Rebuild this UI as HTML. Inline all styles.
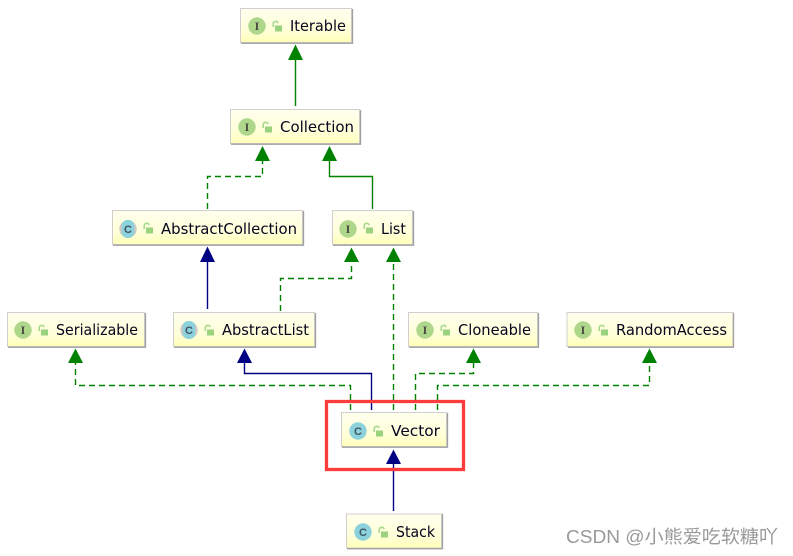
<!DOCTYPE html>
<html><head><meta charset="utf-8"><style>html,body{margin:0;padding:0;background:#fff}svg{display:block}
.t{font-family:"DejaVu Sans","Liberation Sans",sans-serif;font-size:15px;fill:#05051e}
.l{font-family:"Liberation Serif",serif;font-size:12px;font-weight:bold;fill:#4a4a40;text-anchor:middle}
.c{font-family:"Liberation Sans",sans-serif;font-size:11px;font-weight:bold;fill:#3f5560;text-anchor:middle}
.d{fill:none;stroke:#008200;stroke-width:1.4;stroke-dasharray:6 4}
.s{fill:none;stroke:#008200;stroke-width:1.4}
.b{fill:none;stroke:#000082;stroke-width:1.4}
</style></head><body>
<svg width="793" height="556" viewBox="0 0 793 556" xmlns="http://www.w3.org/2000/svg">
<defs>
<linearGradient id="g" x1="0" y1="0" x2="0" y2="1"><stop offset="0" stop-color="#ffffee"/><stop offset=".65" stop-color="#ffffd8"/><stop offset="1" stop-color="#ffffb8"/></linearGradient>
<g id="lock"><path d="M1.200 5V1.800a2.600 2.600 0 0 1 5-.8" fill="none" stroke="#a3d98a" stroke-width="1.500"/><rect x="3" y="3.500" width="7" height="6" fill="#9ad27e"/></g>
</defs>
<!-- connectors -->
<path class="s" d="M295.500 50V106"/>
<path class="d" d="M207.500 209V176.500H262.500V158"/>
<path class="s" d="M372.500 209V176.500H329.500V158"/>
<path class="b" d="M207.500 309V258"/>
<path class="d" d="M280.500 311V278.500H351.500V260"/>
<path class="d" d="M393.500 410V260"/>
<path class="d" d="M350.500 410V385.500H75.500V360"/>
<path class="b" d="M371.500 410V373.500H244.500V360"/>
<path class="d" d="M415.500 410V373.500H473.500V360"/>
<path class="d" d="M437.500 410V385.500H649.500V360"/>
<path class="b" d="M393.500 511V462"/>
<!-- arrowheads -->
<g fill="#008200">
<polygon points="295.500,44.500 288,60 303,60"/>
<polygon points="262.500,146 255,161 270,161"/>
<polygon points="329.500,146 322,161 337,161"/>
<polygon points="351.500,247.500 344,262 359,262"/>
<polygon points="393.500,247.500 386,262 401,262"/>
<polygon points="75.500,348.500 68,363 83,363"/>
<polygon points="473.500,348.500 466,363 481,363"/>
<polygon points="649.500,348.500 642,363 657,363"/>
</g>
<g fill="#000082">
<polygon points="207.500,246.500 200,262 215,262"/>
<polygon points="244.500,348.500 237,363 252,363"/>
<polygon points="393.500,449.500 386,464 401,464"/>
</g>
<!-- boxes -->
<g stroke="#cfcfcf" stroke-width="1" fill="url(#g)">
<rect x="240.500" y="8.500" width="111" height="34"/>
<rect x="230.500" y="109.500" width="129" height="34"/>
<rect x="112.500" y="210.500" width="190" height="34"/>
<rect x="332.500" y="210.500" width="80" height="34"/>
<rect x="7.500" y="312.500" width="137" height="34"/>
<rect x="173.500" y="312.500" width="141" height="34"/>
<rect x="408.500" y="312.500" width="129" height="34"/>
<rect x="567" y="312.500" width="166" height="34"/>
<rect x="341.500" y="412.500" width="105" height="34"/>
<rect x="346.500" y="514" width="95" height="34"/>
</g>
<!-- shadows -->
<g fill="none" stroke="#a0a0a0" stroke-width="1.300">
<path d="M352.500 9V43.200H241"/><path d="M360.500 110V144.200H231"/><path d="M303.500 211V245.200H113"/>
<path d="M413.500 211V245.200H333"/><path d="M145.500 313V347.200H8"/><path d="M315.500 313V347.200H174"/>
<path d="M538.500 313V347.200H409"/><path d="M733.500 313V347.200H568"/><path d="M447.500 413V447.200H342"/><path d="M442.500 514V548.700H347"/>
</g>
<!-- circles -->
<g fill="#aed78c">
<circle cx="257" cy="26" r="8.700"/><circle cx="247" cy="127" r="8.700"/><circle cx="348" cy="229" r="8.700"/>
<circle cx="23" cy="330" r="8.700"/><circle cx="425" cy="330" r="8.700"/><circle cx="583" cy="330" r="8.700"/>
</g>
<g fill="#8cd2dc">
<circle cx="128" cy="229" r="8.700" fill="#c8c8c8"/><rect x="122" y="220" width="12" height="18" rx="5" fill="#8cd2dc"/>
<circle cx="189" cy="330" r="8.700" fill="#c8c8c8"/><rect x="183" y="321" width="12" height="18" rx="5" fill="#8cd2dc"/>
<circle cx="358" cy="431" r="8.700"/><circle cx="363" cy="532" r="8.700"/>
</g>
<text class="l" x="257" y="30">I</text><text class="l" x="247" y="131">I</text><text class="l" x="348" y="233">I</text>
<text class="l" x="23" y="334">I</text><text class="l" x="425" y="334">I</text><text class="l" x="583" y="334">I</text>
<text class="c" x="128" y="233">C</text><text class="c" x="189" y="334">C</text><text class="c" x="358" y="435">C</text><text class="c" x="363" y="536">C</text>
<!-- locks -->
<use href="#lock" x="272" y="22"/><use href="#lock" x="262" y="123"/><use href="#lock" x="143" y="224"/>
<use href="#lock" x="363" y="224"/><use href="#lock" x="38" y="326"/><use href="#lock" x="204" y="326"/>
<use href="#lock" x="440" y="326"/><use href="#lock" x="598" y="326"/><use href="#lock" x="373" y="427"/><use href="#lock" x="378" y="528"/>
<!-- labels -->
<text class="t" x="290" y="31" textLength="56" lengthAdjust="spacingAndGlyphs">Iterable</text>
<text class="t" x="280" y="132" textLength="74" lengthAdjust="spacingAndGlyphs">Collection</text>
<text class="t" x="161" y="234" textLength="136" lengthAdjust="spacingAndGlyphs">AbstractCollection</text>
<text class="t" x="381" y="234" textLength="25" lengthAdjust="spacingAndGlyphs">List</text>
<text class="t" x="56" y="335" textLength="82" lengthAdjust="spacingAndGlyphs">Serializable</text>
<text class="t" x="222" y="335" textLength="87" lengthAdjust="spacingAndGlyphs">AbstractList</text>
<text class="t" x="458" y="335" textLength="73" lengthAdjust="spacingAndGlyphs">Cloneable</text>
<text class="t" x="616" y="335" textLength="111" lengthAdjust="spacingAndGlyphs">RandomAccess</text>
<text class="t" x="391" y="436" textLength="49" lengthAdjust="spacingAndGlyphs">Vector</text>
<text class="t" x="396" y="537" textLength="39" lengthAdjust="spacingAndGlyphs">Stack</text>
<!-- red highlight -->
<rect x="326.500" y="401.500" width="137" height="68" fill="none" stroke="#ff3c3c" stroke-width="3.300"/>
<!-- watermark -->
<text x="566" y="543" font-family="'Liberation Sans','Noto Sans CJK SC',sans-serif" font-size="18" fill="#999" textLength="212" lengthAdjust="spacingAndGlyphs">CSDN @小熊爱吃软糖吖</text>
</svg>
</body></html>
